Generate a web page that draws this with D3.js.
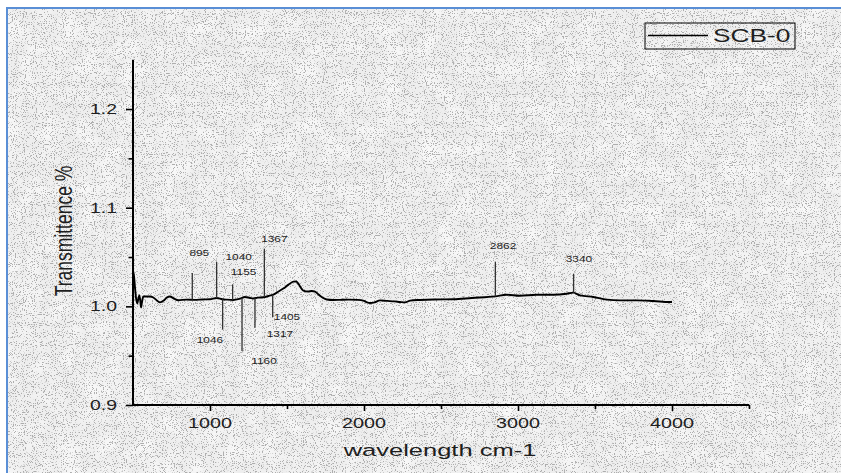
<!DOCTYPE html>
<html>
<head>
<meta charset="utf-8">
<script src="https://cdn.jsdelivr.net/npm/d3@7"></script>
<style>
  html, body { margin: 0; padding: 0; background: #ffffff; }
  svg { display: block; }
</style>
</head>
<body>
<svg id="chart" width="841" height="473"></svg>
<script>
// ---------------- data ----------------
const wavenumber = [
  500, 507, 513, 520, 528, 535, 541, 547, 552, 558, 567, 589, 610, 632, 655, 675, 700, 720, 740, 765,
  794, 848, 900, 950, 1000, 1043, 1080, 1110, 1151, 1190, 1227, 1260, 1281, 1310, 1346, 1380, 1411,
  1440, 1476, 1510, 1541, 1560, 1573, 1606, 1638, 1660, 1682, 1705, 1725, 1758, 1800, 1844, 1900,
  1960, 2000, 2020, 2039, 2070, 2104, 2150, 2200, 2234, 2266, 2300, 2364, 2450, 2580, 2700, 2853,
  2926, 3013, 3121, 3229, 3316, 3359, 3403, 3489, 3576, 3662, 3771, 3879, 3987, 4000
];
const transmittance = [
  1.036, 1.030, 1.019, 1.008, 1.003, 1.008, 1.011, 1.006, 0.999, 1.004, 1.010, 1.010, 1.010, 1.009,
  1.006, 1.004, 1.006, 1.009, 1.010, 1.008, 1.0062, 1.0068, 1.0066, 1.0070, 1.0072, 1.0084, 1.0072,
  1.0068, 1.0065, 1.0075, 1.0095, 1.0085, 1.0080, 1.0088, 1.0092, 1.0105, 1.0120, 1.0145, 1.0180,
  1.0220, 1.0250, 1.0252, 1.0230, 1.0160, 1.0150, 1.0155, 1.0150, 1.0120, 1.0095, 1.0070, 1.0065,
  1.0066, 1.0068, 1.0066, 1.0055, 1.0040, 1.0034, 1.0040, 1.0060, 1.0055, 1.0050, 1.0044, 1.0040,
  1.0058, 1.0065, 1.0070, 1.0072, 1.0085, 1.0101, 1.0118, 1.0108, 1.0118, 1.0118, 1.0128, 1.0139,
  1.0111, 1.0095, 1.0068, 1.0061, 1.0061, 1.0054, 1.0044, 1.0044
];
const seriesName = "SCB-0";

const peakLabels = ["895", "1040", "1155", "1367", "1046", "1160", "1317", "1405", "2862", "3340"];
const peakWavenumber = [885, 1043, 1147, 1353, 1082, 1208, 1292, 1407, 2853, 3361];
const peakTip = [1.0338, 1.0449, 1.0223, 1.0585, 0.9764, 0.9547, 0.9784, 0.9892, 1.0449, 1.0331];

const xTickValues = [1000, 2000, 3000, 4000];
const xMinorTicks = [1500, 2500, 3500, 4500];
const yTickValues = [0.9, 1.0, 1.1, 1.2];
const yMinorTicks = [0.95, 1.05, 1.15];
const xDomain = [500, 4500];
const yDomain = [0.9, 1.25];
const xTitle = "wavelength cm-1";
const yTitle = "Transmittence %";

// ---------------- layout / style ----------------
const plot = { left: 133, right: 749, top: 59.7, bottom: 405 };
// label offsets (px) relative to each annotation line tip
const labelOffsets = [
  [7, -16.5], [22, -1.7], [11, -9], [10, -6.6], [-12.7, 13.4],
  [22, 13.3], [25, 9.4], [14.3, 3.3], [7.7, -13.4], [5.3, -11.3]
];
const textColor = "#1e1e1e";

const svg = d3.select("#chart");

// ---------------- background ----------------
const defs = svg.append("defs");
const f = defs.append("filter").attr("id", "speckle")
  .attr("x", 0).attr("y", 0).attr("width", "100%").attr("height", "100%")
  .attr("color-interpolation-filters", "sRGB");
f.append("feTurbulence").attr("type", "fractalNoise").attr("baseFrequency", 0.9)
  .attr("numOctaves", 2).attr("seed", 11).attr("result", "t");
f.append("feColorMatrix").attr("in", "t").attr("type", "matrix")
  .attr("values", "0 0 0 0 0.68  0 0 0 0 0.68  0 0 0 0 0.68  10 0 0 0 -5.75");

const f2 = defs.append("filter").attr("id", "mottle")
  .attr("x", 0).attr("y", 0).attr("width", "100%").attr("height", "100%")
  .attr("color-interpolation-filters", "sRGB");
f2.append("feTurbulence").attr("type", "fractalNoise").attr("baseFrequency", 0.05)
  .attr("numOctaves", 2).attr("seed", 3).attr("result", "t");
f2.append("feColorMatrix").attr("in", "t").attr("type", "matrix")
  .attr("values", "0 0 0 0 1  0 0 0 0 1  0 0 0 0 1  1.4 0 0 0 -0.55");

svg.append("rect").attr("x", 7).attr("y", 8).attr("width", 840).attr("height", 470)
  .attr("fill", "#eeeeee");
svg.append("rect").attr("x", 7).attr("y", 8).attr("width", 840).attr("height", 470)
  .attr("fill", "#fff").attr("filter", "url(#mottle)");
svg.append("rect").attr("x", 7).attr("y", 8).attr("width", 840).attr("height", 470)
  .attr("fill", "#fff").attr("filter", "url(#speckle)");
svg.append("rect").attr("x", 7).attr("y", 8).attr("width", 840).attr("height", 470)
  .attr("fill", "none").attr("stroke", "#5a8fd6").attr("stroke-width", 2);

// ---------------- scales ----------------
const x = d3.scaleLinear().domain(xDomain).range([plot.left, plot.right]);
const y = d3.scaleLinear().domain(yDomain).range([plot.bottom, plot.top]);

function stretchedText(g, px, py, txt, size, sx, anchor) {
  return g.append("text")
    .attr("transform", `translate(${px},${py}) scale(${sx},1)`)
    .attr("text-anchor", anchor)
    .attr("font-family", "'Liberation Sans', Arial, sans-serif")
    .attr("font-size", size)
    .attr("fill", textColor)
    .text(txt);
}

// ---------------- axes ----------------
const axisG = svg.append("g");
// x axis
const xAxis = d3.axisBottom(x).tickValues(xTickValues).tickSize(6).tickFormat("");
const gx = axisG.append("g").attr("transform", `translate(0,${plot.bottom})`).call(xAxis);
gx.select(".domain").attr("stroke", "#000").attr("stroke-width", 2).attr("d", `M${plot.left},0H${plot.right}`);
gx.selectAll(".tick line").attr("stroke", "#000").attr("stroke-width", 1.6);
const xMinor = d3.axisBottom(x).tickValues(xMinorTicks).tickSize(4).tickFormat("");
const gxm = axisG.append("g").attr("transform", `translate(0,${plot.bottom})`).call(xMinor);
gxm.select(".domain").remove();
gxm.selectAll(".tick line").attr("stroke", "#000").attr("stroke-width", 1.6);
xTickValues.forEach(v => stretchedText(axisG, x(v), 428, String(v), 14.4, 1.37, "middle"));

// y axis
const yAxis = d3.axisLeft(y).tickValues(yTickValues).tickSize(7).tickFormat("");
const gy = axisG.append("g").attr("transform", `translate(${plot.left},0)`).call(yAxis);
gy.select(".domain").attr("stroke", "#000").attr("stroke-width", 2).attr("d", `M0,${plot.top}V${plot.bottom}`);
gy.selectAll(".tick line").attr("stroke", "#000").attr("stroke-width", 1.6);
const yMinor = d3.axisLeft(y).tickValues(yMinorTicks).tickSize(4.5).tickFormat("");
const gym = axisG.append("g").attr("transform", `translate(${plot.left},0)`).call(yMinor);
gym.select(".domain").remove();
gym.selectAll(".tick line").attr("stroke", "#000").attr("stroke-width", 1.6);
yTickValues.forEach(v => stretchedText(axisG, 117, y(v) + 5, d3.format(".1f")(v), 14.4, 1.35, "end"));

// titles
stretchedText(svg, 440, 456, xTitle, 17, 1.5, "middle");
svg.append("text")
  .attr("transform", `translate(72,231) scale(1.37,1) rotate(-90)`)
  .attr("text-anchor", "middle")
  .attr("font-family", "'Liberation Sans', Arial, sans-serif")
  .attr("font-size", 17.5)
  .attr("fill", textColor)
  .text(yTitle);

// ---------------- curve ----------------
const data = wavenumber.map((w, i) => ({ w, t: transmittance[i] }));
const line = d3.line().x(d => x(d.w)).y(d => y(d.t)).curve(d3.curveMonotoneX);
svg.append("path").datum(data).attr("d", line)
  .attr("fill", "none").attr("stroke", "#000").attr("stroke-width", 1.9)
  .attr("stroke-linejoin", "round");

// ---------------- peak annotations ----------------
const interp = w => {
  const i = d3.bisector(d => d.w).left(data, w);
  if (i <= 0) return data[0].t;
  if (i >= data.length) return data[data.length - 1].t;
  const a = data[i - 1], b = data[i];
  return a.t + (b.t - a.t) * (w - a.w) / (b.w - a.w);
};
const annG = svg.append("g");
peakLabels.forEach((lab, i) => {
  const w = peakWavenumber[i];
  const px = x(w);
  annG.append("line")
    .attr("x1", px).attr("x2", px)
    .attr("y1", y(interp(w))).attr("y2", y(peakTip[i]))
    .attr("stroke", "#333").attr("stroke-width", 1.3);
  stretchedText(annG, px + labelOffsets[i][0], y(peakTip[i]) + labelOffsets[i][1], lab, 9.5, 1.25, "middle");
});

// ---------------- legend ----------------
const leg = svg.append("g");
leg.append("rect").attr("x", 645).attr("y", 23).attr("width", 150).attr("height", 26)
  .attr("fill", "none").attr("stroke", "#000").attr("stroke-width", 1);
leg.append("line").attr("x1", 648).attr("x2", 708).attr("y1", 35.5).attr("y2", 35.5)
  .attr("stroke", "#000").attr("stroke-width", 1.6);
stretchedText(leg, 713, 42, seriesName, 18.5, 1.42, "start");
</script>
</body>
</html>
